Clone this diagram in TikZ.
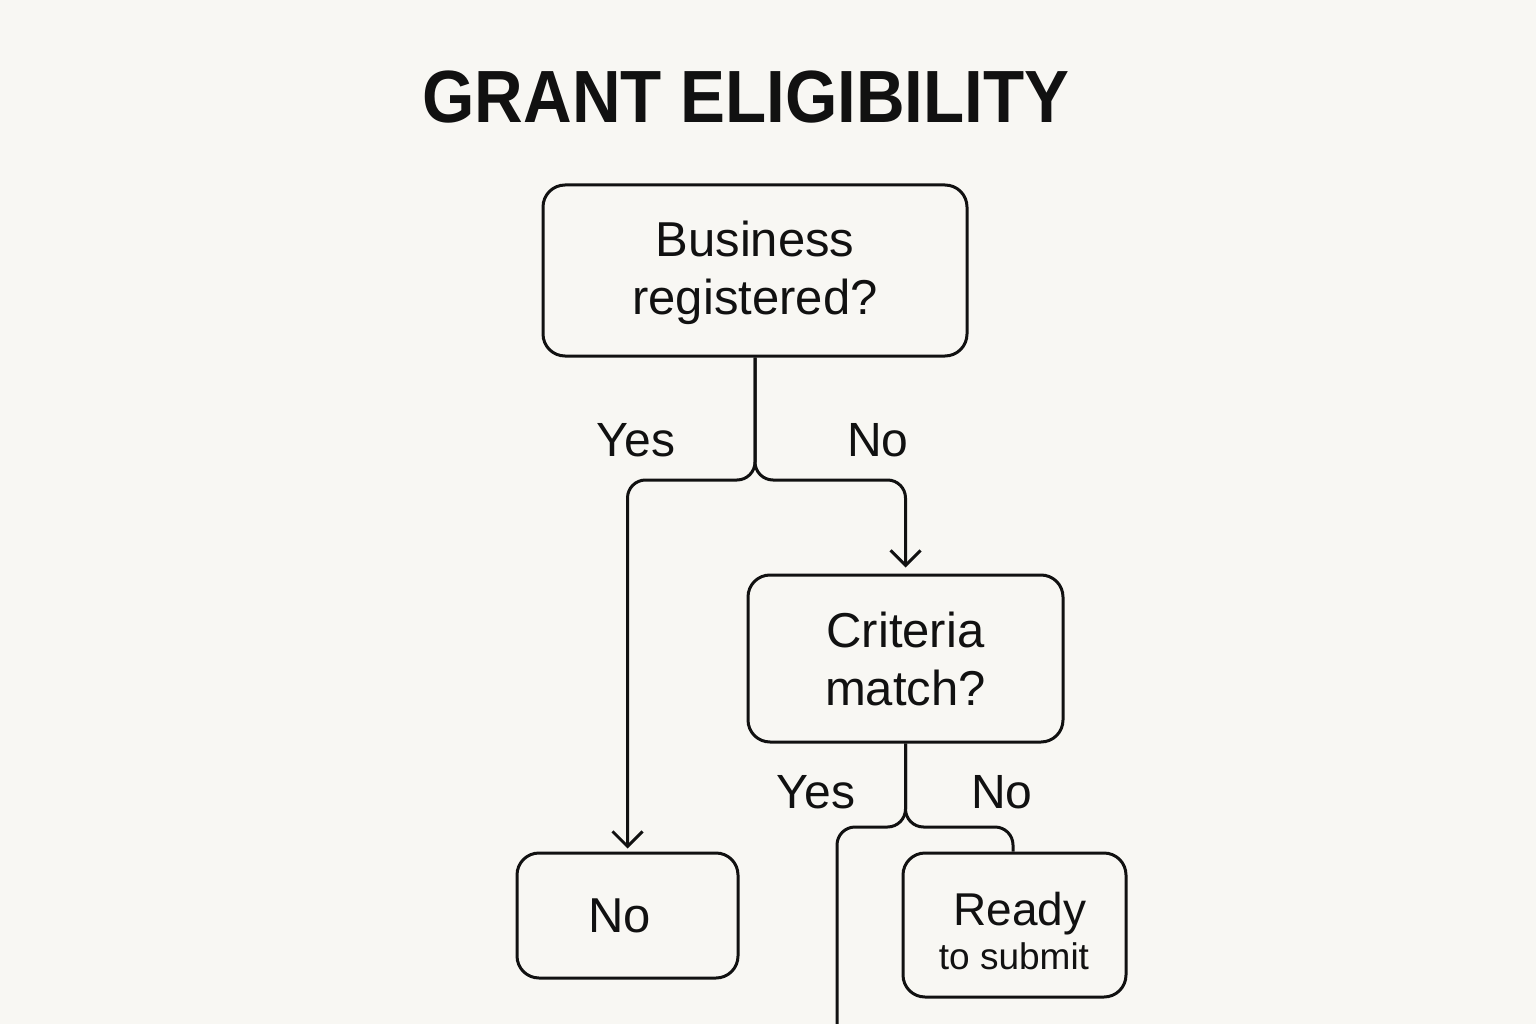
\documentclass[tikz,border=0pt]{standalone}
\usepackage{fontspec}
\setmainfont{Liberation Sans}
\usetikzlibrary{arrows.meta}
\definecolor{bg}{HTML}{F8F7F3}
\definecolor{ink}{HTML}{111111}
\begin{document}
\begin{tikzpicture}[x=1pt,y=-1pt,
  box/.style={draw=ink,line width=3pt,rounded corners=22pt,inner sep=0pt,align=center,text=ink},
  conn/.style={draw=ink,line width=3pt,rounded corners=18pt},
  tip/.style={-{Straight Barb[length=15pt,width=30pt]}},
  lbl/.style={text=ink,font=\fontsize{48}{52}\selectfont,inner sep=0pt}]
\fill[bg] (0,0) rectangle (1536,1024);
\useasboundingbox (0,0) rectangle (1536,1024);
\node[text=ink,inner sep=0pt] (title) at (746,97) {\scalebox{0.91}[1]{\fontsize{74}{80}\selectfont\bfseries GRANT ELIGIBILITY}};
\node[box,minimum width=424pt,minimum height=171pt,font=\fontsize{49}{58}\selectfont,text depth=6pt] (b1) at (755,270.5) {Business\\registered?};
\node[box,minimum width=315pt,minimum height=167pt,font=\fontsize{49}{58}\selectfont] (b2) at (905.5,658.5) {Criteria\\match?};
\node[box,minimum width=221pt,minimum height=125pt,font=\fontsize{49}{56}\selectfont] (nb) at (627.5,915.5) {No\hspace*{16pt}};
\node[box,minimum width=223pt,minimum height=144pt] (rd) at (1014.5,925) {};
\node[text=ink,inner sep=0pt,anchor=base,font=\fontsize{46}{48}\selectfont] (rd1) at (1020,925) {Ready};
\node[text=ink,inner sep=0pt,anchor=base,font=\fontsize{37}{40}\selectfont] (rd2) at (1014,969) {to submit};
\coordinate (j1) at (757,480);
\coordinate (j2) at (906,827);
\coordinate (yl) at (837,827);
\coordinate (yend) at (837,1026);
\coordinate (nr) at (1013,827);
\draw[conn,tip] (b1.south) -- (b1.south |- j1) -- (nb.north |- j1) -- ([yshift=3pt]nb.north);
\draw[conn,tip] (b1.south) -- (b1.south |- j1) -- (b2.north |- j1) -- ([yshift=6pt]b2.north);
\draw[conn] (b2.south) -- (b2.south |- j2) -- (yl) -- (yend);
\draw[conn] (b2.south) -- (b2.south |- j2) -- (nr) -- (nr |- rd.north);
\node[lbl] (y1) at (636,440) {Yes};
\node[lbl] (n1) at (878,440) {No};
\node[lbl] (y2) at (816,792) {Yes};
\node[lbl] (n2) at (1002,792) {No};
\end{tikzpicture}
\end{document}
